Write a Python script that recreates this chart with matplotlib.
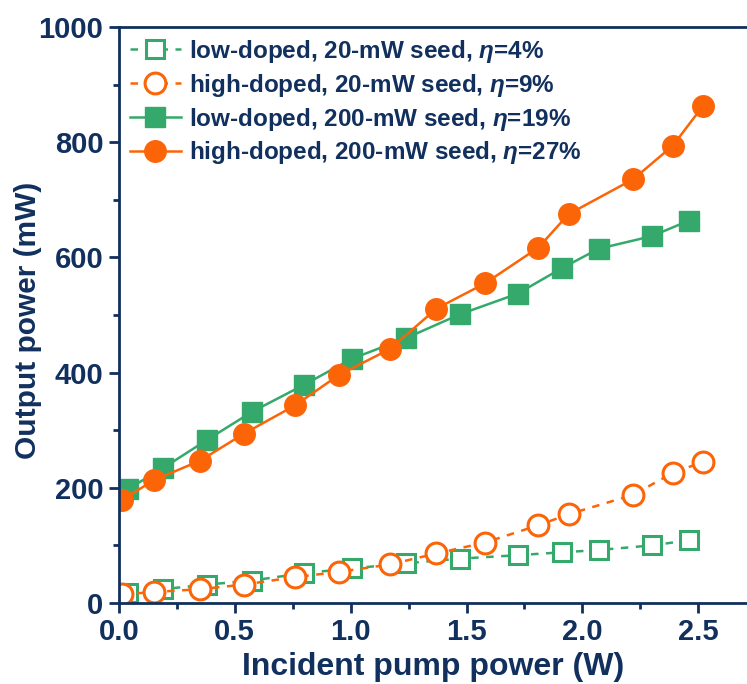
import numpy as np
import matplotlib
matplotlib.use("Agg")
import matplotlib.pyplot as plt
from matplotlib.ticker import MultipleLocator, FormatStrFormatter

# data
x_low20 = [0.04, 0.19, 0.38, 0.575, 0.80, 1.005, 1.24, 1.47, 1.72, 1.91, 2.07, 2.30, 2.46]
y_low20 = [17, 24, 32, 39, 52, 60, 69, 77, 83, 88, 92, 100, 109]

x_high20 = [0.015, 0.15, 0.35, 0.54, 0.76, 0.95, 1.17, 1.37, 1.58, 1.81, 1.94, 2.22, 2.39, 2.52]
y_high20 = [15, 19, 24, 32, 45, 54, 67, 86, 105, 135, 154, 188, 226, 245]

x_low200 = [0.04, 0.19, 0.38, 0.575, 0.80, 1.005, 1.24, 1.47, 1.72, 1.91, 2.07, 2.30, 2.46]
y_low200 = [198, 234, 283, 332, 379, 424, 460, 501, 537, 581, 615, 637, 664]

x_high200 = [0.015, 0.15, 0.35, 0.54, 0.76, 0.95, 1.17, 1.37, 1.58, 1.81, 1.94, 2.22, 2.39, 2.52]
y_high200 = [179, 213, 247, 294, 343, 396, 441, 511, 555, 617, 675, 736, 794, 863]

labels = ["low-doped, 20-mW seed, $\\eta$=4%",
          "high-doped, 20-mW seed, $\\eta$=9%",
          "low-doped, 200-mW seed, $\\eta$=19%",
          "high-doped, 200-mW seed, $\\eta$=27%"]

navy = "#11305e"
green = "#35a96b"
orange = "#fb6508"

plt.rcParams['font.family'] = ['Liberation Sans', 'DejaVu Sans']
plt.rcParams['font.weight'] = 'bold'
plt.rcParams['mathtext.fontset'] = 'custom'
plt.rcParams['mathtext.it'] = 'Liberation Sans:italic:bold'
plt.rcParams['mathtext.rm'] = 'Liberation Sans:bold'

fig = plt.figure(figsize=(7.47, 6.84), dpi=100)
ax = fig.add_axes([0.159, 0.1184, 0.841, 0.8421])

ax.plot(x_low20, y_low20, "--", color=green, lw=1.8, marker="s", ms=13,
        mfc="white", mec=green, mew=2.2, label=labels[0], dashes=(3, 3))
ax.plot(x_high20, y_high20, "--", color=orange, lw=1.8, marker="o", ms=15,
        mfc="white", mec=orange, mew=2.2, label=labels[1], dashes=(3, 3))
ax.plot(x_low200, y_low200, "-", color=green, lw=1.8, marker="s", ms=14,
        mfc=green, mec=green, label=labels[2])
ax.plot(x_high200, y_high200, "-", color=orange, lw=1.8, marker="o", ms=15.5,
        mfc=orange, mec=orange, label=labels[3])

ax.set_xlim(0, 2.71)
ax.set_ylim(0, 1000)
ax.xaxis.set_major_locator(MultipleLocator(0.5))
ax.xaxis.set_minor_locator(MultipleLocator(0.25))
ax.yaxis.set_major_locator(MultipleLocator(200))
ax.yaxis.set_minor_locator(MultipleLocator(100))
ax.xaxis.set_major_formatter(FormatStrFormatter("%.1f"))

for s in ["left", "bottom", "top"]:
    ax.spines[s].set_color(navy)
    ax.spines[s].set_linewidth(2)
ax.spines["right"].set_visible(False)

ax.tick_params(which="major", direction="out", length=7, width=2, colors=navy,
               labelsize=21, pad=4)
ax.tick_params(which="minor", direction="out", length=4, width=2, colors=navy)
for t in ax.get_xticklabels() + ax.get_yticklabels():
    t.set_fontweight("bold")

ax.set_xlabel("Incident pump power (W)", fontsize=23, fontweight="bold", color=navy, labelpad=4)
ax.set_ylabel("Output power (mW)", fontsize=21.5, fontweight="bold", color=navy)
ax.yaxis.set_label_coords(-0.123, 0.49)

leg = ax.legend(loc="upper left", frameon=False, fontsize=17.5, handlelength=2.1,
                handletextpad=0.35, labelspacing=0.28, borderaxespad=0.0,
                borderpad=0.45, bbox_to_anchor=(0.0, 1.0))
for t in leg.get_texts():
    t.set_color(navy)
    t.set_fontweight("bold")

fig.savefig("out.png", dpi=100)
